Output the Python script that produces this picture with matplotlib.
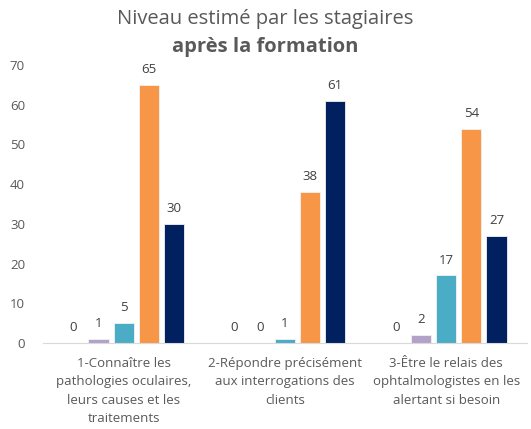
import numpy as np
import matplotlib
matplotlib.use('Agg')
import matplotlib.pyplot as plt

plt.rcParams['font.family'] = ['Open Sans', 'DejaVu Sans']

# Data
categories = ['1-Connaître les\npathologies oculaires,\nleurs causes et les\ntraitements',
              '2-Répondre précisément\naux interrogations des\nclients',
              '3-Être le relais des\nophtalmologistes en les\nalertant si besoin']
serie1 = [0, 0, 0]
serie2 = [1, 0, 2]
serie3 = [5, 1, 17]
serie4 = [65, 38, 54]
serie5 = [30, 61, 27]
series = [serie1, serie2, serie3, serie4, serie5]
colors = ['#D9D9D9', '#B3A2C7', '#4BACC6', '#F79646', '#002060']

fig = plt.figure(figsize=(5.31, 4.29), dpi=100)
ax = fig.add_axes([0.081, 0.2005, 0.911, 0.648])

x = np.arange(len(categories))
step = 0.156
width = 0.125
for i, (vals, c) in enumerate(zip(series, colors)):
    pos = x + (i - 2) * step
    bars = ax.bar(pos, vals, width, color=c, edgecolor='#F2F2F2', linewidth=0.6)
    for b, v in zip(bars, vals):
        ax.text(b.get_x() + b.get_width() / 2, v + 2.2, str(v),
                ha='center', va='bottom', fontsize=9.5, color='#404040')

ax.set_xlim(-0.5, 2.5)
ax.set_ylim(0, 70)
ax.set_yticks(range(0, 71, 10))
ax.tick_params(axis='y', length=0, labelsize=9.5, labelcolor='#595959', pad=13)
ax.set_xticks(x)
ax.set_xticklabels(categories, fontsize=9.5, color='#595959', linespacing=1.55)
ax.tick_params(axis='x', length=0, pad=10)
for s in ['top', 'right', 'left']:
    ax.spines[s].set_visible(False)
ax.spines['bottom'].set_color('#D9D9D9')

fig.text(0.5, 0.955, 'Niveau estimé par les stagiaires', ha='center', va='center',
         fontsize=14.5, color='#595959')
fig.text(0.5, 0.89, 'après la formation', ha='center', va='center',
         fontsize=14.5, color='#595959', fontweight='bold')

fig.savefig('out.png', dpi=100)
